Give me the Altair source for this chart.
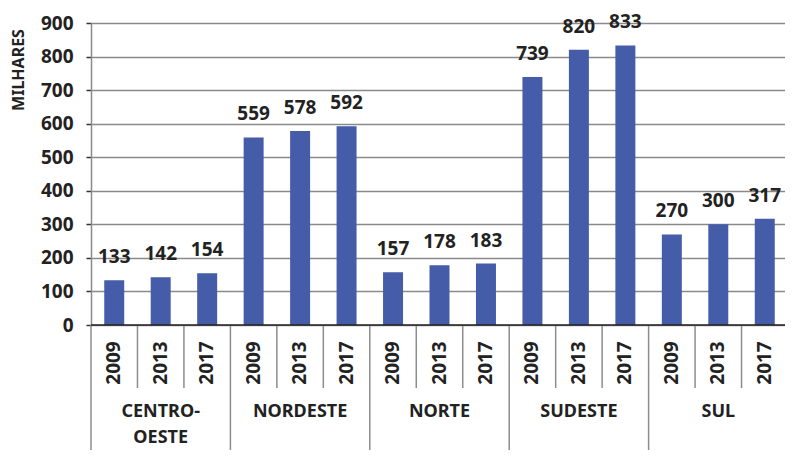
import altair as alt
import pandas as pd

regions = ["CENTRO-OESTE", "NORDESTE", "NORTE", "SUDESTE", "SUL"]
region_labels = ["CENTRO-\nOESTE", "NORDESTE", "NORTE", "SUDESTE", "SUL"]
years = ["2009", "2013", "2017"]
values = [133, 142, 154, 559, 578, 592, 157, 178, 183, 739, 820, 833, 270, 300, 317]
y_ticks = [0, 100, 200, 300, 400, 500, 600, 700, 800, 900]

rows = []
i = 0
for r, rl in zip(regions, region_labels):
    for yr in years:
        rows.append({"region": r, "rlabel": rl, "year": yr, "key": r + " " + yr, "value": values[i]})
        i += 1
df = pd.DataFrame(rows)
keys = list(df["key"])

FONT = "Noto Sans"
TXT = "#222222"
W, H = 694, 302

xscale = alt.Scale(range=[0, 697], paddingInner=0, paddingOuter=0)
x = alt.X("key:N", sort=keys, scale=xscale, axis=None)
x_edge = alt.X("key:N", sort=keys, scale=xscale, axis=None, bandPosition=0)

y_enc = alt.Y(
    "value:Q",
    scale=alt.Scale(domain=[0, 900], nice=False),
    axis=alt.Axis(
        values=y_ticks, tickCount=10, title=None, domainColor="#8a8a8a", domainWidth=1.5,
        gridColor="#8a8a8a", gridWidth=1.5, tickColor="#333333", tickSize=5,
        tickWidth=1.5, labelFont=FONT, labelFontSize=19, labelFontWeight="bold",
        labelColor=TXT, labelPadding=13, labelOverlap=False, labelFlush=False,
    ),
)

base = alt.Chart(df)

bars = base.mark_bar(width=alt.RelativeBandSize(0.43), color="#455ca8").encode(
    x=x, y=y_enc
)

vlabels = base.mark_text(
    dy=-17, baseline="alphabetic", align="center", font=FONT, fontSize=19,
    fontWeight="bold", color=TXT,
).encode(x=x, y=y_enc, text="value:Q")

ylabels = base.mark_text(
    angle=270, align="center", baseline="middle", font=FONT, fontSize=19,
    fontWeight="bold", color=TXT,
).encode(x=x, y=alt.value(340), text="year:N")

year_sep = base.transform_filter(alt.datum.year != "2009").mark_rule(
    color="#8c8c8c", strokeWidth=1.5
).encode(x=x_edge, y=alt.value(H), y2=alt.value(365))

region_sep = base.transform_filter(alt.datum.year == "2009").mark_rule(
    color="#8c8c8c", strokeWidth=1.5
).encode(x=x_edge, y=alt.value(H), y2=alt.value(430))

rlabels = base.transform_filter(alt.datum.year == "2013").mark_text(
    align="center", baseline="alphabetic", font=FONT, fontSize=18,
    fontWeight="bold", color=TXT, lineBreak="\n", lineHeight=26,
).encode(x=x, y=alt.value(394), text="rlabel:N")

one = alt.Chart(pd.DataFrame({"t": ["MILHARES"]}))
baseline = one.mark_rule(color="#222222", strokeWidth=1.5).encode(
    x=alt.value(0), x2=alt.value(W), y=alt.value(H)
)
ytitle = one.mark_text(
    angle=270, align="center", baseline="middle", font=FONT, fontSize=16,
    fontWeight="bold", color=TXT,
).encode(text="t:N", x=alt.value(-72), y=alt.value(47))

chart = alt.layer(
    bars, vlabels, ylabels, year_sep, region_sep, rlabels, baseline, ytitle
).properties(
    width=W, height=H,
    padding={"left": 83, "top": 15, "right": 0, "bottom": 125},
    autosize="none",
).configure_view(stroke=None)

chart.save("out.html", embed_options={"renderer": "svg", "actions": False})
